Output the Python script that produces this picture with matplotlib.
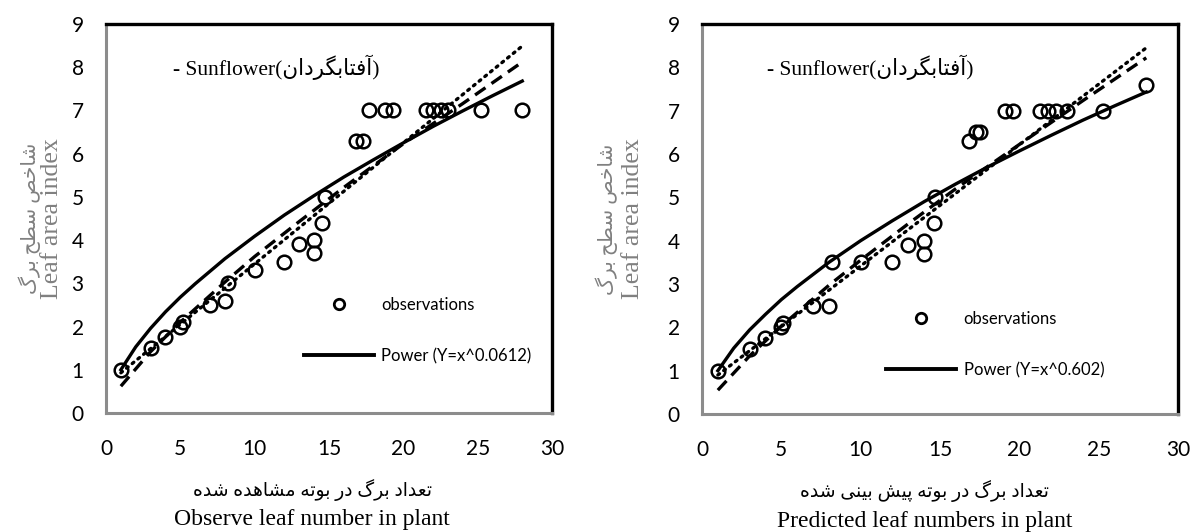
import matplotlib
matplotlib.use('Agg')
import matplotlib.pyplot as plt
from matplotlib.lines import Line2D

# observations
obs_x_left = [1, 3, 4, 5, 5.2, 7, 8, 8.2, 10, 12, 13, 14, 14, 14.5, 14.7,
              16.8, 17.3, 17.7, 18.8, 19.3, 21.5, 22.0, 22.5, 23.0, 25.2, 28]
obs_y_left = [1.0, 1.5, 1.75, 2.0, 2.1, 2.5, 2.6, 3.0, 3.3, 3.5, 3.9, 4.0, 3.7, 4.4, 5.0,
              6.3, 6.3, 7.0, 7.0, 7.0, 7.0, 7.0, 7.0, 7.0, 7.0, 7.0]
obs_x_right = [1, 3, 4, 5, 5.1, 7, 8, 8.2, 10, 12, 13, 14, 14, 14.6, 14.7,
               16.8, 17.3, 17.5, 19.1, 19.6, 21.3, 21.8, 22.3, 23.0, 25.3, 28]
obs_y_right = [1.0, 1.5, 1.75, 2.0, 2.1, 2.5, 2.5, 3.5, 3.5, 3.5, 3.9, 4.0, 3.7, 4.4, 5.0,
               6.3, 6.5, 6.5, 7.0, 7.0, 7.0, 7.0, 7.0, 7.0, 7.0, 7.6]

# solid power trend lines
power_x = [1, 2, 3, 4, 5, 6, 8, 10, 12, 14, 16, 18, 20, 22, 24, 26, 28]
power_y_left = [1.0, 1.53, 1.96, 2.34, 2.68, 2.99, 3.57, 4.09, 4.58, 5.03, 5.46, 5.86, 6.25,
                6.63, 6.99, 7.34, 7.68]
power_y_right = [1.0, 1.52, 1.94, 2.30, 2.64, 2.94, 3.50, 4.0, 4.46, 4.90, 5.31, 5.70, 6.07,
                 6.43, 6.78, 7.11, 7.43]

# dashed trend lines
dash_x = [1, 3, 5, 8, 10, 13, 16, 20, 24, 28]
dash_y_left = [0.62, 1.42, 2.1, 3.03, 3.62, 4.43, 5.22, 6.23, 7.16, 8.12]
dash_y_right = [0.55, 1.34, 2.03, 2.97, 3.55, 4.39, 5.2, 6.22, 7.23, 8.22]

# dotted (straight) trend lines
dot_x = [1, 28]
dot_y_left = [0.93, 8.49]
dot_y_right = [0.9, 8.45]

xticks = [0, 5, 10, 15, 20, 25, 30]
yticks = list(range(10))

title_fa = 'آفتابگردان'
ylabel_fa = 'شاخص سطح برگ'
ylabel_en = 'Leaf area index'
xlabel_fa_left = 'تعداد برگ در بوته مشاهده شده'
xlabel_en_left = 'Observe leaf number in plant'
xlabel_fa_right = 'تعداد برگ در بوته پیش بینی شده'
xlabel_en_right = 'Predicted leaf numbers in plant'
legend_power_left = 'Power (Y=x^0.0612)'
legend_power_right = 'Power (Y=x^0.602)'

# presentation forms: isolated, final, initial, medial
FORMS = {
    'ا': ('\uFE8D', '\uFE8E', None, None),
    'آ': ('\uFE81', '\uFE82', None, None),
    'ب': ('\uFE8F', '\uFE90', '\uFE91', '\uFE92'),
    'پ': ('\uFB56', '\uFB57', '\uFB58', '\uFB59'),
    'ت': ('\uFE95', '\uFE96', '\uFE97', '\uFE98'),
    'ح': ('\uFEA1', '\uFEA2', '\uFEA3', '\uFEA4'),
    'خ': ('\uFEA5', '\uFEA6', '\uFEA7', '\uFEA8'),
    'د': ('\uFEA9', '\uFEAA', None, None),
    'ر': ('\uFEAD', '\uFEAE', None, None),
    'س': ('\uFEB1', '\uFEB2', '\uFEB3', '\uFEB4'),
    'ش': ('\uFEB5', '\uFEB6', '\uFEB7', '\uFEB8'),
    'ص': ('\uFEB9', '\uFEBA', '\uFEBB', '\uFEBC'),
    'ط': ('\uFEC1', '\uFEC2', '\uFEC3', '\uFEC4'),
    'ع': ('\uFEC9', '\uFECA', '\uFECB', '\uFECC'),
    'ف': ('\uFED1', '\uFED2', '\uFED3', '\uFED4'),
    'گ': ('\uFB92', '\uFB93', '\uFB94', '\uFB95'),
    'م': ('\uFEE1', '\uFEE2', '\uFEE3', '\uFEE4'),
    'ن': ('\uFEE5', '\uFEE6', '\uFEE7', '\uFEE8'),
    'ه': ('\uFEE9', '\uFEEA', '\uFEEB', '\uFEEC'),
    'و': ('\uFEED', '\uFEEE', None, None),
    'ی': ('\uFBFC', '\uFBFD', '\uFBFE', '\uFBFF'),
}


def fa(text):
    # join the letters and put them in visual (left to right) order
    out = []
    for i, c in enumerate(text):
        if c not in FORMS:
            out.append(c)
            continue
        prev = text[i - 1] if i > 0 else None
        nxt = text[i + 1] if i + 1 < len(text) else None
        join_prev = prev in FORMS and FORMS[prev][2] is not None
        join_next = nxt in FORMS and FORMS[c][2] is not None
        isol, fin, ini, med = FORMS[c]
        if join_prev and join_next:
            out.append(med)
        elif join_prev:
            out.append(fin)
        elif join_next:
            out.append(ini)
        else:
            out.append(isol)
    return ''.join(reversed(out))


SERIF = ['Liberation Serif', 'DejaVu Sans']
plt.rcParams['font.family'] = ['Lato', 'DejaVu Sans']

fig = plt.figure(figsize=(11.93, 5.32), dpi=100)
ax1 = fig.add_axes([106 / 1193, 119 / 532, 446 / 1193, 389 / 532])
ax2 = fig.add_axes([702 / 1193, 118 / 532, 476 / 1193, 390 / 532])


def draw_panel(ax, ox, oy, py, dy, doty, leg_label, leg_anchor, title_x,
               xl_fa, xl_en, xl_cx, yl_fa_x, yl_en_x):
    ax.plot(ox, oy, 'o', ms=9.8, mfc='none', mec='black', mew=1.8, zorder=4)
    ax.plot(power_x, py, '-', color='black', lw=2.4, zorder=3)
    ax.plot(dash_x, dy, color='black', lw=2.4, dashes=(3.8, 2.2), zorder=3)
    ax.plot(dot_x, doty, color='black', lw=2.4, dashes=(0.6, 1.6),
            dash_capstyle='round', zorder=3)

    ax.set_xlim(0, 30)
    ax.set_ylim(0, 9)
    ax.set_xticks(xticks)
    ax.set_yticks(yticks)
    ax.tick_params(length=0, labelsize=15)
    ax.tick_params(axis='x', pad=19)
    ax.tick_params(axis='y', pad=16)
    for s in ['left', 'bottom']:
        ax.spines[s].set_color('#8c8c8c')
        ax.spines[s].set_linewidth(2.2)
    for s in ['top', 'right']:
        ax.spines[s].set_color('black')
        ax.spines[s].set_linewidth(2.4)

    ax.text(title_x, 8.0, '- Sunflower(' + fa(title_fa) + ')', family=SERIF,
            fontsize=15.5, va='center', ha='left')

    handles = [Line2D([], [], ls='none', marker='o', ms=7.5, mfc='none',
                      mec='black', mew=2.0),
               Line2D([], [], color='black', lw=2.8)]
    ax.legend(handles, ['observations', leg_label], loc='center left',
              bbox_to_anchor=leg_anchor, bbox_transform=ax.transData,
              frameon=False, fontsize=12, handlelength=4.2, handletextpad=0.45,
              labelspacing=2.1, borderpad=0, borderaxespad=0)

    ax.text(xl_cx, -0.197, fa(xl_fa), transform=ax.transAxes, family=SERIF,
            fontsize=13.5, ha='center', va='center')
    ax.text(xl_cx, -0.275, xl_en, transform=ax.transAxes, family=SERIF,
            fontsize=17, ha='center', va='center')
    ax.text(yl_fa_x, 0.5, fa(ylabel_fa), transform=ax.transAxes, family=SERIF,
            fontsize=14.5, ha='center', va='center', rotation=90, color='#808080')
    ax.text(yl_en_x, 0.5, ylabel_en, transform=ax.transAxes, family=SERIF,
            fontsize=18.5, ha='center', va='center', rotation=90, color='#808080')


draw_panel(ax1, obs_x_left, obs_y_left, power_y_left, dash_y_left, dot_y_left,
           legend_power_left, (13.3, 1.91), 4.5,
           xlabel_fa_left, xlabel_en_left, 0.462, -0.172, -0.121)
draw_panel(ax2, obs_x_right, obs_y_right, power_y_right, dash_y_right, dot_y_right,
           legend_power_right, (11.6, 1.6), 4.1,
           xlabel_fa_right, xlabel_en_right, 0.468, -0.200, -0.145)

fig.savefig('out.png', dpi=100)
